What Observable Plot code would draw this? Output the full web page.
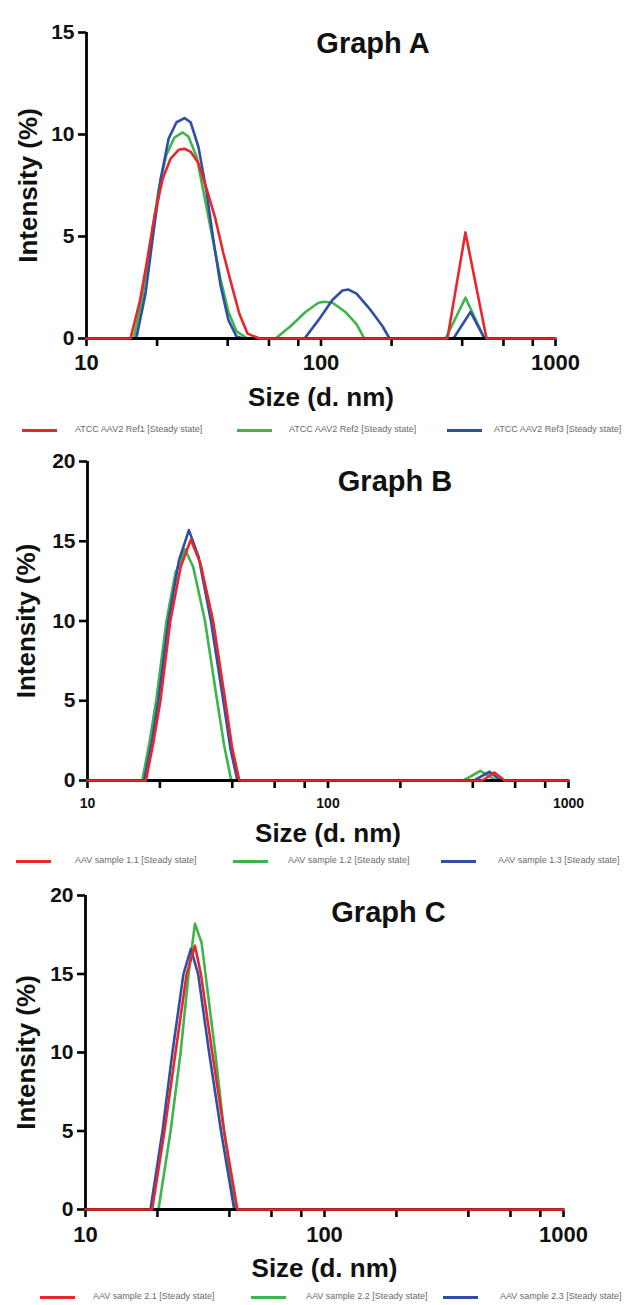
<!DOCTYPE html>
<html>
<head>
<meta charset="utf-8">
<script src="https://cdn.jsdelivr.net/npm/d3@7"></script>
<script src="https://cdn.jsdelivr.net/npm/@observablehq/plot@0.6"></script>
<style>
  html, body { margin: 0; padding: 0; background: #fff; }
  body { width: 631px; height: 1305px; overflow: hidden; position: relative;
         font-family: "Liberation Sans", Arial, sans-serif; }
  .panel { position: absolute; left: 0; }
  .legend { position: absolute; left: 0; width: 631px; height: 20px; overflow: hidden; }
  .legend .sw { position: absolute; height: 3px; top: 8px; }
  .legend .tx { position: absolute; top: 3px; font-size: 9px; color: #6a6a6a; white-space: nowrap; }
</style>
</head>
<body>
<script>
// ---------------- DATA (size in d.nm, intensity in %) ----------------
const colors = ["#e8262b", "#3db54a", "#2f4fa5"];   // series 1, 2, 3

const namesA = ["ATCC AAV2 Ref1 [Steady state]", "ATCC AAV2 Ref2 [Steady state]", "ATCC AAV2 Ref3 [Steady state]"];
const namesB = ["AAV sample 1.1 [Steady state]", "AAV sample 1.2 [Steady state]", "AAV sample 1.3 [Steady state]"];
const namesC = ["AAV sample 2.1 [Steady state]", "AAV sample 2.2 [Steady state]", "AAV sample 2.3 [Steady state]"];

const titles = ["Graph A", "Graph B", "Graph C"];
const yTicksA = [0, 5, 10, 15];
const yTicksBC = [0, 5, 10, 15, 20];
const xMajorTicks = [10, 100, 1000];
const xMinorTicks = [20, 40, 60, 80, 200, 400, 600, 800];

const ref1A = [[10,0],[15.4,0],[16.9,1.85],[17.9,3.45],[19.5,6.0],[21.1,7.8],[22.8,8.8],[24.7,9.25],[26.2,9.3],[27.8,9.15],[30.0,8.6],[32.6,7.3],[35.4,5.9],[38.2,4.25],[41.5,2.65],[44.9,1.2],[48.6,0.24],[54.7,0],[346,0],[413,5.2],[508,0],[1000,0]];
const ref2A = [[10,0],[15.9,0],[17.3,2.0],[18.7,4.6],[20.3,7.3],[21.9,9.0],[23.7,9.85],[25.7,10.1],[27.2,9.9],[29.5,8.9],[31.8,7.0],[34.5,4.9],[37.3,2.9],[40.3,1.3],[43.6,0.35],[48.6,0],[64,0],[74.1,0.6],[85.9,1.3],[97.5,1.75],[103.5,1.8],[112,1.75],[127,1.3],[141.7,0.7],[153,0],[340,0],[413,2.0],[498,0],[1000,0]];
const ref3A = [[10,0],[16.3,0],[17.85,2.2],[19.1,4.8],[20.7,7.8],[22.4,9.8],[24.2,10.6],[26.2,10.8],[27.8,10.6],[30.0,9.4],[32.5,7.2],[34.8,4.8],[37.3,2.6],[40.3,0.9],[43.6,0.1],[46.7,0],[85.1,0],[97.5,0.9],[112,1.9],[123.5,2.35],[131,2.4],[141.7,2.2],[162.6,1.4],[183,0.6],[196,0],[367,0],[434,1.3],[498,0],[1000,0]];

const s11B = [[10,0],[17.5,0],[18.8,2.4],[20.1,5],[22.1,10],[24.4,13.4],[26.9,15.1],[29.5,13.6],[33.3,10],[37.4,5],[40,2.0],[42.8,0],[438,0],[492,0.5],[543,0],[1000,0]];
const s12B = [[10,0],[16.9,0],[18.2,2.6],[19.3,5],[21.3,10],[23.2,13.0],[25.4,14.5],[27.5,13.4],[30.8,10],[34.6,5],[37.0,2.2],[39.6,0],[366,0],[430,0.6],[502,0],[1000,0]];
const s13B = [[10,0],[17.2,0],[18.5,2.4],[19.7,5],[21.7,10],[24.0,13.8],[26.4,15.7],[29.0,14.0],[32.6,10],[36.7,5],[39.3,2.0],[42.0,0],[405,0],[470,0.55],[522,0],[1000,0]];

const s21C = [[10,0],[19.0,0],[21.4,5],[23.8,10],[26.5,15],[28.7,16.8],[30.4,15],[33.9,10],[38.0,5],[43.2,0],[1000,0]];
const s22C = [[10,0],[20.2,0],[22.7,5],[25.0,10],[27.0,15],[28.7,18.2],[30.6,17.0],[34.9,10],[38.0,5],[42.4,0],[1000,0]];
const s23C = [[10,0],[18.7,0],[21.0,5],[23.1,10],[25.7,15],[27.6,16.6],[29.6,15],[32.9,10],[36.9,5],[41.9,0],[1000,0]];

// ---------------- LAYOUT ----------------
const FONT = '"Liberation Sans", Arial, sans-serif';

function panel(cfg) {
  const toRows = arr => arr.map(([s, v]) => ({size: s, value: v}));
  const [r, g, b] = cfg.series.map(toRows);
  const lineOpts = (c) => ({x: "size", y: "value", stroke: c, strokeWidth: 2.6, curve: "linear", strokeLinejoin: "round"});
  const chart = Plot.plot({
    width: 631,
    height: cfg.height,
    marginTop: cfg.mt, marginBottom: cfg.mb, marginLeft: cfg.ml, marginRight: cfg.mr,
    style: {fontFamily: FONT, background: "transparent", overflow: "visible"},
    x: {type: "log", domain: [10, 1000], axis: null},
    y: {domain: [0, cfg.yMax], axis: null},
    marks: [
      Plot.axisY({ticks: cfg.yTicks, tickSize: 8, tickPadding: 4, strokeWidth: 2.6, fontSize: 21, fontWeight: "bold", fill: "#111", label: null}),
      Plot.axisX({ticks: xMajorTicks, tickFormat: d => String(d), tickSize: 8, tickPadding: cfg.xPad, strokeWidth: 2.6, fontSize: cfg.xFont, fontWeight: "bold", fill: "#111", label: null}),
      Plot.axisX({ticks: xMinorTicks, tickFormat: () => "", tickSize: 8, strokeWidth: 2.6, label: null}),
      Plot.line(g, lineOpts(colors[1])),
      Plot.line(b, lineOpts(colors[2])),
      Plot.ruleX([10], {stroke: "#000", strokeWidth: 2.8}),
      Plot.ruleY([0], {stroke: "#000", strokeWidth: 2.8}),
      Plot.line(r, lineOpts(colors[0])),
      Plot.text([cfg.title], {frameAnchor: "top", dx: cfg.tdx, dy: cfg.tdy, textAnchor: "middle", lineAnchor: "middle", fontSize: 29, fontWeight: "bold", fill: "#111", fontFamily: FONT}),
      Plot.text(["Intensity (%)"], {frameAnchor: "left", dx: cfg.ydx, rotate: -90, textAnchor: "middle", lineAnchor: "middle", fontSize: 26, fontWeight: "bold", fill: "#111", fontFamily: FONT}),
      Plot.text(["Size (d. nm)"], {frameAnchor: "bottom", dy: cfg.xdy, textAnchor: "middle", lineAnchor: "middle", fontSize: 26, fontWeight: "bold", fill: "#111", fontFamily: FONT})
    ]
  });
  const holder = document.createElement("div");
  holder.className = "panel";
  holder.style.top = cfg.top + "px";
  holder.appendChild(chart);
  document.body.appendChild(holder);

  const leg = document.createElement("div");
  leg.className = "legend";
  leg.style.top = cfg.legTop + "px";
  cfg.names.forEach((name, i) => {
    const sw = document.createElement("div");
    sw.className = "sw";
    sw.style.left = cfg.legSw[i] + "px";
    sw.style.width = "35px";
    sw.style.background = colors[i];
    const tx = document.createElement("div");
    tx.className = "tx";
    tx.style.left = cfg.legTx[i] + "px";
    tx.textContent = name;
    leg.appendChild(sw);
    leg.appendChild(tx);
  });
  document.body.appendChild(leg);
}

panel({top: 0, height: 415, mt: 32, mb: 77, ml: 86, mr: 76, yMax: 15, yTicks: yTicksA,
  series: [ref1A, ref2A, ref3A], names: namesA, title: titles[0],
  tdx: 52, tdy: 11, ydx: -58, xdy: 59, xFont: 22, xPad: 8,
  legTop: 421, legSw: [22, 237, 447], legTx: [75, 289, 494]});

panel({top: 440, height: 410, mt: 21, mb: 70, ml: 87, mr: 63, yMax: 20, yTicks: yTicksBC,
  series: [s11B, s12B, s13B], names: namesB, title: titles[1],
  tdx: 67, tdy: 20, ydx: -61, xdy: 53, xFont: 14, xPad: 10,
  legTop: 852, legSw: [16, 233, 441], legTx: [75, 288, 498]});

panel({top: 875, height: 412, mt: 20, mb: 78, ml: 85, mr: 68, yMax: 20, yTicks: yTicksBC,
  series: [s21C, s22C, s23C], names: namesC, title: titles[2],
  tdx: 64, tdy: 17, ydx: -59, xdy: 59, xFont: 22, xPad: 9,
  legTop: 1288, legSw: [40, 251, 443], legTx: [93, 306, 500]});
</script>
</body>
</html>
